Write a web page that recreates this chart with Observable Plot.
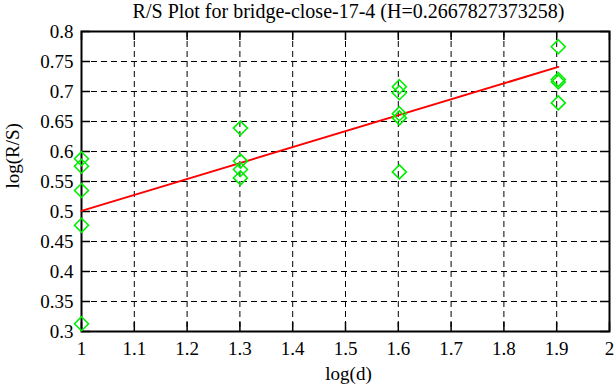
<!DOCTYPE html>
<html><head><meta charset="utf-8">
<script src="https://cdn.jsdelivr.net/npm/d3@7"></script>
<script src="https://cdn.jsdelivr.net/npm/@observablehq/plot@0.6"></script>
<style>body{margin:0;background:#fff}svg{display:block}</style>
</head><body><div id="chart"></div>
<script>
const title = "R/S Plot for bridge-close-17-4 (H=0.2667827373258)";
const xLabel = "log(d)";
const yLabel = "log(R/S)";
const logD = [1, 1, 1, 1, 1,
  1.301, 1.301, 1.301, 1.301,
  1.602, 1.602, 1.602, 1.602, 1.602,
  1.903, 1.903, 1.903, 1.903];
const logRS = [0.588, 0.5755, 0.535, 0.477, 0.313,
  0.639, 0.584, 0.570, 0.556,
  0.708, 0.698, 0.663, 0.656, 0.566,
  0.7746, 0.720, 0.716, 0.681];
const fitX = [1, 1.903];
const fitY = [0.501, 0.741];
const xTicks = [1, 1.1, 1.2, 1.3, 1.4, 1.5, 1.6, 1.7, 1.8, 1.9, 2];
const yTicks = [0.3, 0.35, 0.4, 0.45, 0.5, 0.55, 0.6, 0.65, 0.7, 0.75, 0.8];

const points = logD.map((x, i) => ({x, y: logRS[i]}));
const fit = fitX.map((x, i) => ({x, y: fitY[i]}));

const W = 616, H = 387, mL = 81, mR = 7, mT = 31, mB = 56;
const pw = W - mL - mR, ph = H - mT - mB, tk = 9;
const font = "Liberation Serif";

const chart = Plot.plot({
  width: W, height: H,
  marginLeft: mL, marginRight: mR, marginTop: mT, marginBottom: mB,
  style: {fontFamily: font, fontSize: "19px", background: "#fff", color: "#000"},
  x: {domain: [1, 2], axis: null},
  y: {domain: [0.3, 0.8], axis: null},
  marks: [
    Plot.ruleX(xTicks, {stroke: "#000", strokeWidth: 1, strokeDasharray: "6,4"}),
    Plot.ruleY(yTicks, {stroke: "#000", strokeWidth: 1, strokeDasharray: "6,4"}),
    Plot.ruleX(xTicks, {stroke: "#000", strokeWidth: 1.5, insetTop: ph - tk}),
    Plot.ruleX(xTicks, {stroke: "#000", strokeWidth: 1.5, insetBottom: ph - tk}),
    Plot.ruleY(yTicks, {stroke: "#000", strokeWidth: 1.5, insetRight: pw - tk}),
    Plot.ruleY(yTicks, {stroke: "#000", strokeWidth: 1.5, insetLeft: pw - tk}),
    Plot.frame({stroke: "#000", strokeWidth: 2}),
    Plot.text(xTicks, {x: d => d, text: d => String(d), frameAnchor: "bottom", lineAnchor: "top", dy: 10, fontSize: 19, fontFamily: font, fill: "#000"}),
    Plot.text(yTicks, {y: d => d, text: d => String(d), frameAnchor: "left", textAnchor: "end", dx: -8, fontSize: 19, fontFamily: font, fill: "#000"}),
    Plot.line(fit, {x: "x", y: "y", stroke: "#ff0000", strokeWidth: 2}),
    Plot.dot(points, {x: "x", y: "y", symbol: "diamond2", r: 6.3, stroke: "#00ee00", strokeWidth: 1.6}),
    Plot.text([title], {frameAnchor: "top", lineAnchor: "middle", dy: -19.5, dx: 3, fontSize: 20, fontFamily: font}),
    Plot.text([xLabel], {frameAnchor: "bottom", lineAnchor: "middle", dy: 42, dx: 3, fontSize: 19, fontFamily: font}),
    Plot.text([yLabel], {frameAnchor: "left", lineAnchor: "middle", rotate: -90, dx: -69, dy: 7, fontSize: 19, fontFamily: font})
  ]
});
document.getElementById("chart").append(chart);
</script>
</body></html>
